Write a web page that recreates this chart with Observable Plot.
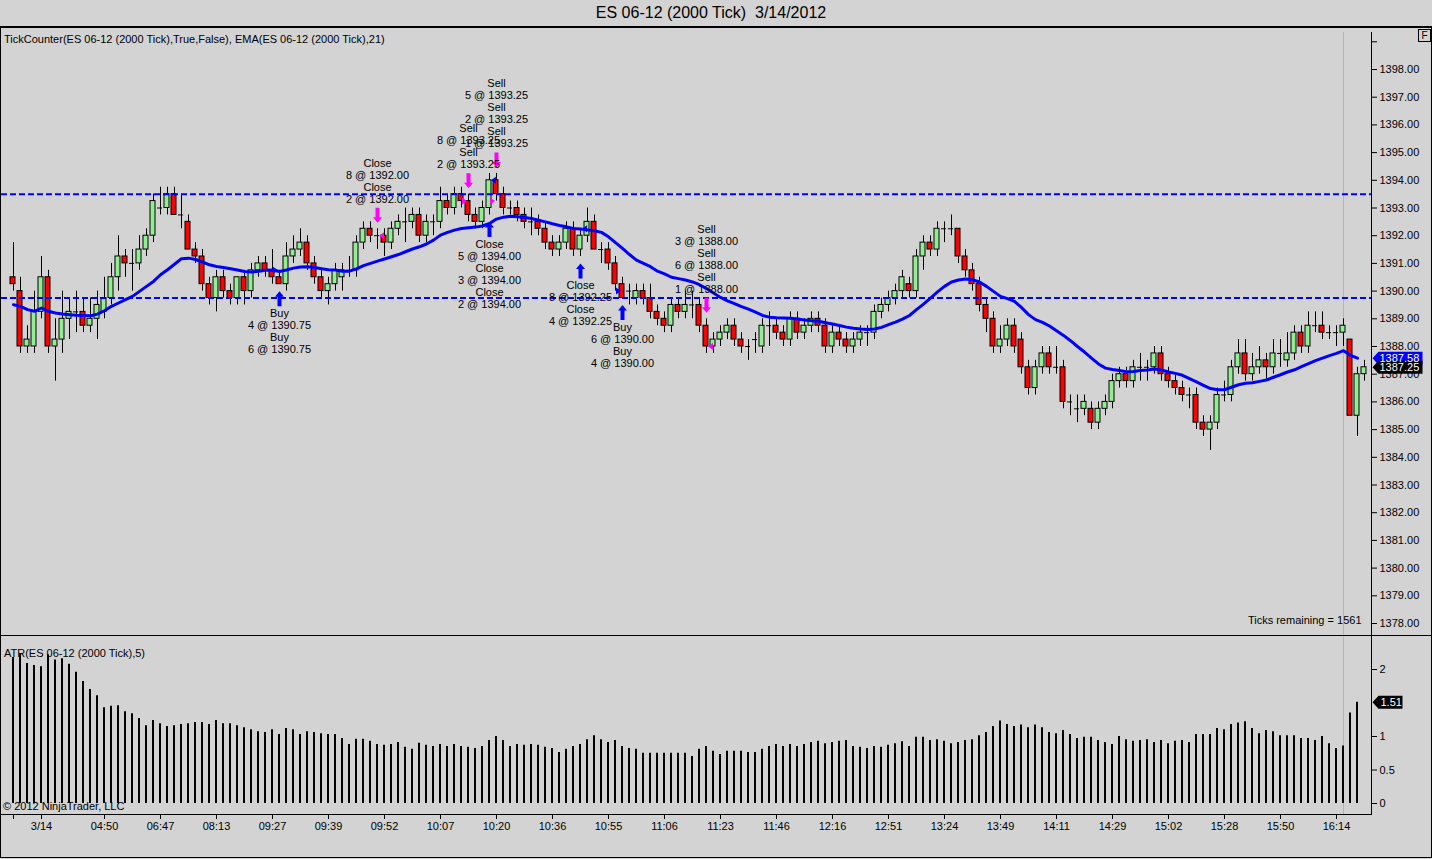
<!DOCTYPE html>
<html><head><meta charset="utf-8">
<script src="https://cdn.jsdelivr.net/npm/d3@7"></script>
<script src="https://cdn.jsdelivr.net/npm/@observablehq/plot@0.6"></script>
<style>
 html,body{margin:0;padding:0;background:#d3d3d3;overflow:hidden;}
 #root{position:relative;width:1432px;height:859px;font-family:'Liberation Sans',Arial,sans-serif;color:#000;}
 .abs{position:absolute;}
 .line{position:absolute;background:#000;}
 .lbl{position:absolute;font-size:11px;white-space:pre;line-height:13px;}
</style></head><body>
<div id="root">
 <div class="abs" style="left:0;top:3px;width:1422px;text-align:center;font-size:16px;line-height:20px;">ES 06-12 (2000 Tick)&nbsp; 3/14/2012</div>
 <div id="price" class="abs" style="left:0;top:28px;width:1432px;height:607px;"></div>
 <div id="atr" class="abs" style="left:0;top:636px;width:1432px;height:221px;"></div>
 <div class="line" style="left:0;top:26px;width:1432px;height:2px;"></div>
 <div class="line" style="left:0;top:27px;width:1px;height:831px;"></div>
 <div class="line" style="left:1431px;top:27px;width:1px;height:831px;"></div>
 <div class="line" style="left:0;top:857px;width:1432px;height:1px;"></div>
 <div class="line" style="left:0;top:635px;width:1432px;height:1px;"></div>
 <div class="line" style="left:1371px;top:32px;width:1px;height:783px;"></div>
 <div class="line" style="left:0;top:814px;width:1372px;height:1px;"></div>
 <div class="abs" style="left:1418px;top:29px;width:11px;height:11px;border:1px solid #000;font-size:10px;line-height:11px;text-align:center;">F</div>
 <div class="lbl" style="left:4px;top:33px;">TickCounter(ES 06-12 (2000 Tick),True,False), EMA(ES 06-12 (2000 Tick),21)</div>
 <div class="lbl" style="left:4px;top:647px;">ATR(ES 06-12 (2000 Tick),5)</div>
 <div class="lbl" style="left:3px;top:800px;">© 2012 NinjaTrader, LLC</div>
</div>
<script>
// ---- Data ----
const opens = [
 1390.5,1390,1388,1388,1389.25,1390.5,1388,1388.25,1389,1389.25,
 1389.25,1388.75,1389,1389.25,1389.75,1390.5,1391.25,1391,1391,1391.5,
 1392,1393,1393,1393.5,1392.75,1392.5,1391.5,1391.25,1390.25,1389.75,
 1390.5,1390,1389.75,1390.5,1390,1390.75,1391,1390.75,1390.5,1390.25,
 1391.25,1391.5,1391.75,1391,1390.5,1390,1390.25,1390.5,1390.75,1390.75,
 1391.75,1392.25,1392,1392,1391.75,1392.25,1392.5,1392.5,1392.75,1392,
 1392.5,1392.5,1393.25,1393,1393.5,1393.25,1392.75,1392.5,1393,1394,
 1393.5,1393,1393,1392.75,1392.5,1392.5,1392.25,1391.75,1391.5,1391.75,
 1392.25,1391.5,1392,1392.5,1391.5,1391.5,1391,1390.25,1390,1389.75,
 1390,1389.75,1389.25,1389,1388.75,1389.5,1389.25,1389.5,1389.5,1388.75,
 1388,1388.25,1388.5,1388.75,1388.25,1388,1388.25,1388,1388.75,1388.75,
 1388.5,1388.25,1389,1388.5,1388.75,1389,1388.75,1388,1388.5,1388.25,
 1388,1388.25,1388.5,1388.5,1389.25,1389.5,1389.75,1390,1390.25,1390,
 1391.25,1391.75,1391.5,1392.25,1392.25,1392.25,1391.25,1390.75,1390.25,1389.5,
 1389,1388,1388.25,1388.75,1388.25,1387.25,1386.5,1387.25,1387.75,1387.25,
 1387.25,1386,1385.75,1385.75,1385.75,1385.25,1385.75,1386,1386.75,1387,
 1386.75,1387.25,1387.25,1387.25,1387.75,1387,1386.75,1386.5,1386.25,1386.25,
 1385.25,1385,1385.25,1386.25,1386.25,1387.25,1387.75,1387,1387.25,1387.5,
 1387.25,1387.75,1387.5,1387.75,1388.5,1388,1388.75,1388.75,1388.5,1388.5,
 1388.5,1388.25,1385.5,1387
];
const highs = [
 1391.75,1390.5,1388.75,1390,1391.25,1390.75,1389,1390,1389.75,1390,
 1389.75,1389.75,1390,1390.5,1391,1392,1391.5,1391.5,1392,1392.25,
 1393.5,1393.75,1393.75,1393.75,1393.5,1392.75,1391.75,1391.5,1390.5,1390.75,
 1390.75,1390.25,1390.5,1390.75,1391,1391.25,1391.25,1391.5,1390.75,1391.75,
 1392,1392.25,1392,1391.25,1390.75,1390.5,1391,1391,1391.25,1392,
 1392.5,1392.5,1392.25,1392.25,1392.5,1392.75,1393,1393,1393,1392.75,
 1392.75,1393.75,1393.5,1393.75,1393.75,1393.5,1393,1393.25,1394.25,1394.25,
 1393.75,1393.25,1393.25,1393,1393,1392.75,1392.5,1392,1392,1392.5,
 1392.5,1392.25,1393,1392.75,1391.75,1391.75,1391.25,1390.5,1390.25,1390.25,
 1390.25,1390.25,1389.5,1389.25,1389.75,1389.75,1390,1390,1389.75,1389,
 1388.5,1388.75,1389,1389,1388.5,1388.25,1388.5,1389,1389.25,1389,
 1388.75,1389.25,1389.25,1389,1389.25,1389.25,1389,1388.75,1388.75,1388.5,
 1388.5,1388.75,1388.75,1389.5,1389.75,1390,1390.25,1390.75,1390.5,1391.5,
 1392,1392,1392.5,1392.5,1392.75,1392.25,1391.5,1391,1390.5,1389.75,
 1389.25,1388.75,1389,1389,1388.5,1387.5,1387.5,1388,1388,1388,
 1387.5,1386.25,1386.25,1386.25,1386,1386,1386.25,1387,1387.25,1387.25,
 1387.5,1387.75,1387.5,1388,1388,1387.25,1387,1386.75,1386.5,1386.5,
 1385.5,1385.5,1386.5,1386.75,1387.5,1388.25,1388.25,1387.75,1388,1387.75,
 1388.25,1388.25,1388.5,1388.75,1388.75,1389.25,1389.25,1389.25,1388.75,1388.75,
 1389,1388.25,1387.25,1387.5
];
const lows = [
 1390,1387.75,1387.75,1387.75,1389,1387.75,1386.75,1387.75,1388.25,1388.5,
 1388.5,1388.5,1388.25,1389,1389.5,1390,1390.5,1390,1390.75,1391.25,
 1391.75,1392.75,1392.75,1392.75,1392.25,1391.5,1391,1390,1389.5,1389.25,
 1389.75,1389.5,1389.5,1389.5,1389.75,1390.5,1390.5,1390.25,1390.25,1390,
 1391,1391.25,1390.75,1390.25,1389.75,1389.5,1390,1390,1390.5,1390.5,
 1391.5,1391.75,1391.5,1391.25,1391.5,1392,1391.75,1392.25,1391.75,1391.75,
 1392,1392.25,1392.75,1392.75,1393,1392.5,1392.25,1392.25,1392.75,1393.25,
 1392.75,1392.75,1392.5,1392.25,1392,1392,1391.5,1391.25,1391.25,1391.5,
 1391.25,1391.25,1391.75,1391.5,1391,1390.75,1390,1389.75,1389.5,1389.5,
 1389.5,1389,1388.75,1388.5,1388.5,1389,1389,1389,1388.5,1387.75,
 1387.75,1388,1388.25,1388,1387.75,1387.5,1387.75,1387.75,1388,1388.25,
 1388,1388,1388.25,1388.25,1388.5,1388.5,1387.75,1387.75,1388,1387.75,
 1387.75,1388,1388,1388.25,1389,1389.25,1389.5,1389.75,1389.75,1389.75,
 1390.75,1391.25,1391.25,1391.75,1392,1391,1390.5,1390,1389.25,1388.5,
 1387.75,1387.75,1388,1387.75,1387,1386.25,1386.25,1387,1387,1387,
 1385.75,1385.5,1385.25,1385.5,1385,1385,1385.5,1385.75,1386.5,1386.5,
 1386.5,1386.75,1386.75,1387,1386.75,1386.5,1386.25,1386,1385.75,1385,
 1384.75,1384.25,1385,1386,1386,1387,1386.75,1386.75,1387,1386.75,
 1387,1387.25,1387.25,1387.5,1387.75,1387.75,1388.5,1388.25,1388.25,1388,
 1388,1385.5,1384.75,1386.75
];
const closes = [
 1390.25,1388,1388.25,1389.25,1390.5,1388,1388.25,1389,1389.25,1389.25,
 1388.75,1389,1389.5,1389.75,1390.5,1391.25,1391,1391,1391.5,1392,
 1393.25,1393,1393.5,1392.75,1392.75,1391.5,1391.25,1390.25,1389.75,1390.5,
 1390,1389.75,1390.5,1390,1390.75,1391,1390.75,1390.5,1390.25,1391.25,
 1391.5,1391.75,1391,1390.5,1390,1390.25,1390.75,1390.75,1390.75,1391.75,
 1392.25,1392,1392,1391.75,1392.25,1392.5,1392.5,1392.75,1392,1392.5,
 1392.5,1393.25,1393,1393.5,1393.25,1392.75,1392.5,1393,1394,1393.5,
 1393,1393,1392.75,1392.5,1392.5,1392.25,1391.75,1391.5,1391.75,1392.25,
 1391.5,1392,1392.5,1391.5,1391.5,1391,1390.25,1389.75,1390,1390,
 1389.75,1389.25,1389,1388.75,1389.5,1389.25,1389.5,1389.5,1388.75,1388,
 1388.25,1388.5,1388.75,1388.25,1388,1388,1388.25,1388.75,1388.75,1388.5,
 1388.25,1389,1388.5,1388.75,1389,1388.75,1388,1388.5,1388.25,1388,
 1388.25,1388.5,1388.5,1389.25,1389.5,1389.75,1390,1390.5,1390,1391.25,
 1391.75,1391.5,1392.25,1392.25,1392.25,1391.25,1390.75,1390.25,1389.5,1389,
 1388,1388.25,1388.75,1388,1387.25,1386.5,1387.25,1387.75,1387.25,1387.25,
 1386,1386,1385.75,1386,1385.25,1385.75,1386,1386.75,1387,1386.75,
 1387.25,1387.25,1387.25,1387.75,1387,1386.75,1386.5,1386.25,1386.25,1385.25,
 1385,1385.25,1386.25,1386.25,1387.25,1387.75,1387,1387.25,1387.5,1387.25,
 1387.75,1387.75,1387.75,1388.5,1388,1388.75,1388.75,1388.5,1388.5,1388.5,
 1388.75,1385.5,1387,1387.25
];
const ema21 = [
 1389.51,1389.45,1389.33,1389.27,1389.39,1389.27,1389.21,1389.17,1389.15,1389.13,
 1389.12,1389.11,1389.17,1389.29,1389.45,1389.57,1389.69,1389.81,1389.99,1390.17,
 1390.35,1390.59,1390.77,1390.97,1391.17,1391.19,1391.14,1391.05,1390.95,1390.89,
 1390.85,1390.81,1390.76,1390.71,1390.69,1390.72,1390.75,1390.76,1390.71,1390.76,
 1390.83,1390.87,1390.88,1390.85,1390.81,1390.77,1390.76,1390.72,1390.72,1390.80,
 1390.92,1391.0,1391.08,1391.16,1391.24,1391.32,1391.42,1391.52,1391.6,1391.7,
 1391.84,1392.02,1392.12,1392.2,1392.26,1392.29,1392.31,1392.35,1392.44,1392.6,
 1392.67,1392.7,1392.68,1392.66,1392.62,1392.56,1392.5,1392.43,1392.37,1392.32,
 1392.26,1392.24,1392.21,1392.18,1392.12,1391.96,1391.75,1391.54,1391.32,1391.12,
 1391.0,1390.88,1390.72,1390.62,1390.5,1390.45,1390.4,1390.33,1390.23,1390.09,
 1389.93,1389.77,1389.65,1389.55,1389.44,1389.35,1389.24,1389.12,1389.06,1389.04,
 1389.03,1389.02,1388.99,1388.96,1388.93,1388.91,1388.86,1388.81,1388.76,1388.7,
 1388.66,1388.63,1388.61,1388.63,1388.69,1388.79,1388.88,1388.99,1389.12,1389.33,
 1389.53,1389.75,1389.97,1390.17,1390.33,1390.4,1390.44,1390.41,1390.33,1390.17,
 1389.99,1389.81,1389.73,1389.63,1389.41,1389.15,1388.97,1388.87,1388.74,1388.57,
 1388.4,1388.21,1388.0,1387.8,1387.58,1387.37,1387.22,1387.17,1387.13,1387.09,
 1387.1,1387.13,1387.15,1387.19,1387.15,1387.08,1387.03,1386.96,1386.84,1386.72,
 1386.6,1386.48,1386.44,1386.44,1386.53,1386.62,1386.67,1386.69,1386.74,1386.79,
 1386.89,1386.98,1387.08,1387.16,1387.27,1387.38,1387.49,1387.58,1387.67,1387.75,
 1387.85,1387.68,1387.58
];
const atr5 = [
 2.18,2.23,2.09,2.06,2.04,2.22,2.14,2.16,2.08,1.96,
 1.82,1.70,1.61,1.43,1.45,1.46,1.37,1.34,1.27,1.16,
 1.24,1.19,1.15,1.16,1.18,1.19,1.21,1.21,1.18,1.24,
 1.19,1.19,1.16,1.13,1.10,1.07,1.06,1.10,1.03,1.12,
 1.10,1.03,1.07,1.06,1.04,1.03,1.03,0.97,0.88,0.96,
 0.96,0.93,0.88,0.87,0.88,0.91,0.84,0.81,0.90,0.87,
 0.85,0.88,0.85,0.88,0.85,0.84,0.82,0.85,0.94,1.00,
 0.94,0.85,0.88,0.87,0.88,0.87,0.84,0.82,0.76,0.81,
 0.85,0.88,0.95,1.01,0.95,0.91,0.94,0.85,0.82,0.81,
 0.75,0.75,0.75,0.75,0.75,0.75,0.75,0.70,0.81,0.85,
 0.78,0.73,0.78,0.78,0.78,0.76,0.76,0.81,0.85,0.88,
 0.85,0.88,0.85,0.88,0.91,0.93,0.89,0.91,0.93,0.94,
 0.85,0.84,0.82,0.85,0.84,0.87,0.89,0.92,0.85,0.99,
 0.99,0.94,0.95,0.93,0.89,0.91,0.94,0.95,1.01,1.06,
 1.15,1.23,1.18,1.15,1.17,1.13,1.17,1.13,1.06,1.04,
 1.09,1.03,0.97,0.99,0.99,0.94,0.91,0.88,1.00,0.95,
 0.93,0.94,0.95,0.91,0.94,0.89,0.93,0.94,0.91,1.03,
 1.03,1.03,1.12,1.10,1.18,1.20,1.22,1.12,1.04,1.09,
 1.07,1.01,1.01,1.01,0.97,0.97,0.94,1.00,0.89,0.82,
 0.86,1.35,1.51
];
const levels = [1393.5, 1389.75];
const sessionBreaks = [190];
const priceTicks = [1378,1379,1380,1381,1382,1383,1384,1385,1386,1387,1388,1389,1390,1391,1392,1393,1394,1395,1396,1397,1398,1399];
const atrTicks = [0, 0.5, 1, 2];
const xTickIdx = [0,4,13,21,29,37,45,53,61,69,77,85,93,101,109,117,125,133,141,149,157,165,173,181,189];
const xTickLabels = ["","3/14","04:50","06:47","08:13","09:27","09:39","09:52","10:07","10:20","10:36","10:55","11:06","11:23","11:46","12:16","12:51","13:24","13:49","14:11","14:29","15:02","15:28","15:50","16:14"];
const trades = [
 {bar:38, action:"buy",  lines:["Buy","4 @ 1390.75","Buy","6 @ 1390.75"]},
 {bar:52, action:"sell", lines:["Close","8 @ 1392.00","Close","2 @ 1392.00"]},
 {bar:65, action:"sell", lines:["Sell","8 @ 1393.25","Sell","2 @ 1393.25"]},
 {bar:68, action:"buy",  lines:["Close","5 @ 1394.00","Close","3 @ 1394.00","Close","2 @ 1394.00"]},
 {bar:69, action:"sell", lines:["Sell","5 @ 1393.25","Sell","2 @ 1393.25","Sell","1 @ 1393.25"]},
 {bar:81, action:"buy",  lines:["Close","8 @ 1392.25","Close","4 @ 1392.25"]},
 {bar:87, action:"buy",  lines:["Buy","6 @ 1390.00","Buy","4 @ 1390.00"]},
 {bar:99, action:"sell", lines:["Sell","3 @ 1388.00","Sell","6 @ 1388.00","Sell","1 @ 1388.00"]}
];
const fills = [
 {bar:38, price:1390.75, action:"buy",  kind:"entry"},
 {bar:52, price:1392.00, action:"sell", kind:"exit"},
 {bar:65, price:1393.25, action:"sell", kind:"entry"},
 {bar:68, price:1394.00, action:"buy",  kind:"exit"},
 {bar:69, price:1393.25, action:"sell", kind:"entry"},
 {bar:81, price:1392.25, action:"buy",  kind:"exit"},
 {bar:87, price:1390.00, action:"buy",  kind:"entry"},
 {bar:99, price:1388.00, action:"sell", kind:"exit"}
];
const ticksRemaining = "Ticks remaining = 1561";

// ---- Build ----
const candles = opens.map((o, i) => ({i, o, h: highs[i], l: lows[i], c: closes[i]}));
const upBars = candles.filter(d => d.c > d.o);
const downBars = candles.filter(d => d.c < d.o);
const flatBars = candles.filter(d => d.c === d.o);
const emaData = ema21.map((v, i) => ({i, v}));
const atrData = atr5.map((v, i) => ({i, v}));
const buys = trades.filter(d => d.action === "buy");
const sells = trades.filter(d => d.action === "sell");

const BLUE = "#0000ff", MAGENTA = "#ff00ff";
const L = 3/7, R = 2/7;
const font = "'Liberation Sans', Arial, sans-serif";
const style = {background: "transparent", fontFamily: font, fontSize: "11px", color: "#000", overflow: "visible"};
const xScale = {type: "linear", domain: [0, opens.length - 1], range: [13, 1364]};

const upArrow = {draw(c) { c.moveTo(0,0); c.lineTo(4.5,5.5); c.lineTo(2,5.5); c.lineTo(2,15); c.lineTo(-2,15); c.lineTo(-2,5.5); c.lineTo(-4.5,5.5); c.closePath(); }};
const downArrow = {draw(c) { c.moveTo(0,0); c.lineTo(4.5,-5.5); c.lineTo(2,-5.5); c.lineTo(2,-15); c.lineTo(-2,-15); c.lineTo(-2,-5.5); c.lineTo(-4.5,-5.5); c.closePath(); }};
const triLeft = {draw(c) { c.moveTo(-2.5,0); c.lineTo(2.5,-3.5); c.lineTo(2.5,3.5); c.closePath(); }};
const triRight = {draw(c) { c.moveTo(2.5,0); c.lineTo(-2.5,-3.5); c.lineTo(-2.5,3.5); c.closePath(); }};
const tag = w => ({draw(c) { c.moveTo(0,0); c.lineTo(6,-6.5); c.lineTo(w,-6.5); c.lineTo(w,6.5); c.lineTo(6,6.5); c.closePath(); }});

const priceTags = [
 {v: ema21[ema21.length - 1], color: BLUE},
 {v: closes[closes.length - 1], color: "#000"}
];

const fillMarks = fills.map(f => Plot.dot([f], {
 x: "bar", y: "price",
 symbol: f.kind === "entry" ? triRight : triLeft,
 dx: f.kind === "entry" ? -4 : 4,
 r: 4, fill: f.action === "buy" ? BLUE : MAGENTA, stroke: "none"
}));

const pricePlot = Plot.plot({
 width: 1432, height: 607,
 marginLeft: 1, marginRight: 61, marginTop: 4, marginBottom: 0,
 style,
 x: {...xScale, axis: null},
 y: {domain: [1378, 1398], range: [595, 41], axis: "right", ticks: priceTicks,
     tickFormat: v => v === 1399 ? "" : v.toFixed(2), tickSize: 5, tickPadding: 3, label: null},
 marks: [
  Plot.ruleX(sessionBreaks, {x: d => d, stroke: "#b4b4b4"}),
  Plot.ruleX(candles, {x: "i", y1: "l", y2: "h", stroke: "#000"}),
  Plot.rect(upBars, {x1: d => d.i - L, x2: d => d.i + R, y1: "o", y2: "c", fill: "#90ee90", stroke: "#000"}),
  Plot.rect(downBars, {x1: d => d.i - L, x2: d => d.i + R, y1: "o", y2: "c", fill: "#ff0000", stroke: "#000"}),
  Plot.ruleY(flatBars, {y: "c", x1: d => d.i - L, x2: d => d.i + R, stroke: "#000"}),
  Plot.ruleY(levels, {y: d => d, stroke: BLUE, strokeWidth: 2, strokeDasharray: "6,3"}),
  Plot.line(emaData, {x: "i", y: "v", stroke: BLUE, strokeWidth: 3, strokeLinejoin: "round", strokeLinecap: "round"}),
  ...fillMarks,
  Plot.dot(buys, {x: "bar", y: d => lows[d.bar], symbol: upArrow, dy: 7, r: 5, fill: BLUE, stroke: "none"}),
  Plot.dot(sells, {x: "bar", y: d => highs[d.bar], symbol: downArrow, dy: -6, r: 5, fill: MAGENTA, stroke: "none"}),
  Plot.text(buys, {x: "bar", y: d => lows[d.bar], text: d => d.lines.join("\n"), lineAnchor: "top", dy: 24.5,
   fontSize: 11, lineHeight: 1.09, fill: "#000", fontFamily: font}),
  Plot.text(sells, {x: "bar", y: d => highs[d.bar], text: d => d.lines.join("\n"), lineAnchor: "bottom", dy: -26,
   fontSize: 11, lineHeight: 1.09, fill: "#000", fontFamily: font}),
  ...priceTags.map(t => Plot.dot([t], {y: "v", frameAnchor: "right", symbol: tag(50), dx: 1, r: 5, fill: t.color, stroke: "none"})),
  Plot.text(priceTags, {y: "v", text: d => d.v.toFixed(2), frameAnchor: "right", textAnchor: "start", dx: 8, fill: "#fff", fontSize: 11, fontFamily: font}),
  Plot.text([ticksRemaining], {text: d => d, frameAnchor: "bottom-right", textAnchor: "end", lineAnchor: "middle", dx: -10, dy: -15, fontSize: 11, fontFamily: font})
 ]
});
document.getElementById("price").appendChild(pricePlot);

const atrLast = [{v: atr5[atr5.length - 1]}];
const atrPlot = Plot.plot({
 width: 1432, height: 221,
 marginLeft: 1, marginRight: 61, marginTop: 0, marginBottom: 43,
 style,
 x: {...xScale, axis: "bottom", ticks: xTickIdx, tickFormat: i => xTickLabels[xTickIdx.indexOf(i)],
     tickSize: 5, tickPadding: 3, label: null},
 y: {domain: [0, 2], range: [167, 33], axis: "right", ticks: atrTicks, tickFormat: v => String(v),
     tickSize: 5, tickPadding: 3, label: null},
 marks: [
  Plot.ruleX(sessionBreaks, {x: d => d, stroke: "#b4b4b4"}),
  Plot.ruleX(atrData, {x: "i", y1: 0, y2: "v", stroke: "#000", strokeWidth: 2, dx: -0.5}),
  Plot.dot(atrLast, {y: "v", frameAnchor: "right", symbol: tag(30), dx: 1, r: 5, fill: "#000", stroke: "none"}),
  Plot.text(atrLast, {y: "v", text: d => d.v.toFixed(2), frameAnchor: "right", textAnchor: "start", dx: 9, fill: "#fff", fontSize: 11, fontFamily: font})
 ]
});
document.getElementById("atr").appendChild(atrPlot);
</script>
</body></html>
